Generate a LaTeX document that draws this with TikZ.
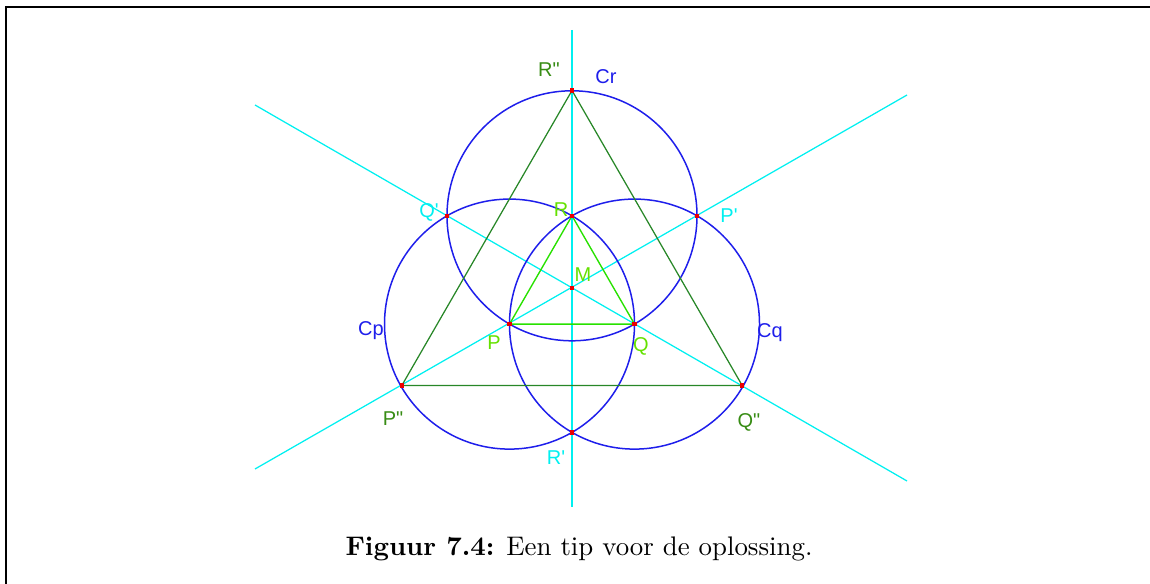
\documentclass[tikz,border=0pt]{standalone}
\usepackage{fontspec}
\newfontfamily\lab[Ligatures=TeXOff]{Liberation Sans}
\definecolor{cblue}{RGB}{30,30,235}
\definecolor{ccyan}{RGB}{0,240,240}
\definecolor{dgreen}{RGB}{40,135,40}
\definecolor{lgreen}{RGB}{40,225,0}
\definecolor{lblgreen}{RGB}{100,225,0}
\definecolor{olive}{RGB}{55,140,20}
\definecolor{cred}{RGB}{235,0,0}
\tikzset{
  axis/.style={ccyan, line width=0.5pt},
  circ/.style={cblue, line width=0.6pt},
  bigtri/.style={dgreen, line width=0.5pt},
  smalltri/.style={lgreen, line width=0.55pt},
  pt/.style={fill=cred, inner sep=0pt, minimum size=1.8pt, draw=none, rectangle},
  lbl/.style={inner sep=0pt, font=\lab\fontsize{8}{9}\selectfont},
}
\begin{document}
\begin{tikzpicture}[x=0.4pt, y=-0.4pt]
\useasboundingbox (0,0) rectangle (1150,584);
% frame
\draw[line width=0.8pt] (6,584) -- (6,7) -- (1150,7);
% points
\coordinate (Mc) at (572,288);
\coordinate (Pc) at (509.5,324.1);
\coordinate (Qc) at (634.5,324.1);
\coordinate (Rc) at (572,215.8);
\coordinate (Ppc) at (697,215.8);
\coordinate (Qpc) at (447,215.8);
\coordinate (Rpc) at (572,432.4);
\coordinate (Ppp) at (401.8,385.5);
\coordinate (Qpp) at (742.2,385.5);
\coordinate (Rpp) at (572,90.5);
% axis line ends
\coordinate (v1) at (572,30);
\coordinate (v2) at (572,507);
\coordinate (a1) at (255,105);
\coordinate (a2) at (907,481);
\coordinate (b1) at (255,469);
\coordinate (b2) at (907,95);
\draw[axis] (v1) -- (v2);
\draw[axis] (a1) -- (a2);
\draw[axis] (b1) -- (b2);
% circles
\draw[circ] (Pc) circle[radius=50pt];
\draw[circ] (Qc) circle[radius=50pt];
\draw[circ] (Rc) circle[radius=50pt];
% triangles
\draw[bigtri] (Ppp) -- (Qpp) -- (Rpp) -- cycle;
\draw[smalltri] (Pc) -- (Qc) -- (Rc) -- cycle;
% dots
\foreach \p in {Mc,Pc,Qc,Rc,Ppc,Qpc,Rpc,Ppp,Qpp,Rpp}
  \node[pt] at (\p) {};
% labels
\node[lbl, text=olive] (lRpp) at (549,70) {R\symbol{34}};
\node[lbl, text=cblue] (lCr) at (606,77) {Cr};
\node[lbl, text=ccyan] (lQp) at (429,212) {Q\symbol{39}};
\node[lbl, text=lblgreen] (lR) at (561,210) {R};
\node[lbl, text=ccyan] (lPp) at (729,216) {P\symbol{39}};
\node[lbl, text=lblgreen] (lM) at (583,275) {M};
\node[lbl, text=cblue] (lCp) at (371,331) {Cp};
\node[lbl, text=lblgreen] (lP) at (494,343) {P};
\node[lbl, text=lblgreen] (lQ) at (641,346) {Q};
\node[lbl, text=cblue] (lCq) at (770,333) {Cq};
\node[lbl, text=olive] (lPpp) at (393,419) {P\symbol{34}};
\node[lbl, text=olive] (lQpp) at (749,422) {Q\symbol{34}};
\node[lbl, text=ccyan] (lRp) at (556,458) {R\symbol{39}};
% caption
\node[inner sep=0pt, font=\fontsize{10.75}{12}\selectfont] (cap) at (579,549) {\textbf{Figuur 7.4:} Een tip voor de oplossing.};
\end{tikzpicture}
\end{document}
